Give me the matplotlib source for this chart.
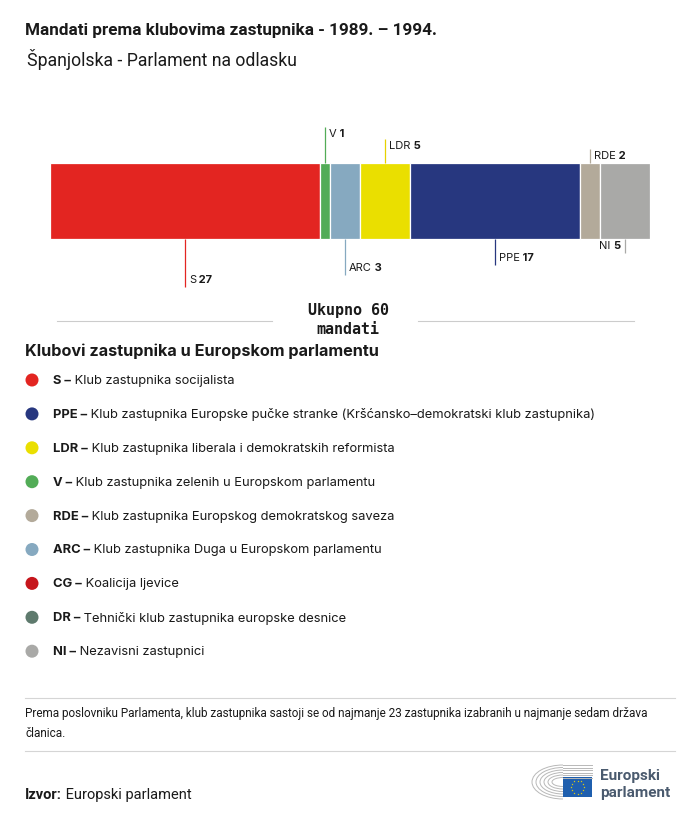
import matplotlib
matplotlib.use("Agg")
import matplotlib.pyplot as plt
from matplotlib.patches import Circle, Rectangle, Arc
import numpy as np

plt.rcParams['font.family'] = ['Inter', 'DejaVu Sans']

# === Data ===
groups = ["S", "V", "ARC", "LDR", "PPE", "RDE", "NI"]
seats = [27, 1, 3, 5, 17, 2, 5]
colors = ["#E32521", "#52AC57", "#86A9C0", "#EADF00", "#27377F", "#B3AA9A", "#A9A9A7"]

# label layout: side (+1 above, -1 below), leader end y (px), text side
label_side = [-1, 1, -1, 1, -1, 1, -1]
label_end = [288, 128, 276, 140, 266, 150, 254]
label_left = [False, False, False, False, False, False, True]

legend_codes = ["S", "PPE", "LDR", "V", "RDE", "ARC", "CG", "DR", "NI"]
legend_names = [
    "Klub zastupnika socijalista",
    "Klub zastupnika Europske pučke stranke (Kršćansko–demokratski klub zastupnika)",
    "Klub zastupnika liberala i demokratskih reformista",
    "Klub zastupnika zelenih u Europskom parlamentu",
    "Klub zastupnika Europskog demokratskog saveza",
    "Klub zastupnika Duga u Europskom parlamentu",
    "Koalicija ljevice",
    "Tehnički klub zastupnika europske desnice",
    "Nezavisni zastupnici",
]
legend_colors = ["#E32521", "#27377F", "#EADF00", "#52AC57", "#B3AA9A",
                 "#86A9C0", "#C6161C", "#5E7A6D", "#A9A9A7"]

total = sum(seats)
W, H = 700, 820
TXT = "#1a1a1a"
ROB = ["Roboto", "DejaVu Sans"]

fig = plt.figure(figsize=(W / 100, H / 100), dpi=100)

# full-figure axis in pixel coordinates for the text
bg = fig.add_axes([0, 0, 1, 1])
bg.set_xlim(0, W)
bg.set_ylim(H, 0)
bg.axis("off")

# === Bar ===
ax = fig.add_axes([50 / W, (H - 300) / H, 600 / W, 180 / H])
ax.set_xlim(0, total)
ax.set_ylim(300, 120)
ax.axis("off")

lefts = np.cumsum([0] + seats[:-1])
ax.barh(202, seats, left=lefts, height=76, color=colors,
        edgecolor="white", linewidth=0.9)

for g, v, l, c, side, end, tleft in zip(groups, seats, lefts, colors,
                                         label_side, label_end, label_left):
    xm = l + v / 2
    y0 = 164 if side > 0 else 240
    ax.plot([xm, xm], [y0, end], color=c if c != "#EADF00" else "#E6D200",
            lw=0.9, solid_capstyle="butt")
    ty = end + 6 if side > 0 else end - 8
    if tleft:
        t = ax.annotate(str(v), xy=(xm, ty), xytext=(-3, 0),
                        textcoords="offset points", ha="right", va="center",
                        fontsize=8, fontweight="bold", color=TXT)
        ax.annotate(g + " ", xy=(0, 0.5), xycoords=t, ha="right", va="center",
                    fontsize=8, color=TXT)
    else:
        t = ax.annotate(g, xy=(xm, ty), xytext=(3, 0),
                        textcoords="offset points", ha="left", va="center",
                        fontsize=8, color=TXT)
        ax.annotate(" " + str(v), xy=(1, 0.5), xycoords=t, ha="left",
                    va="center", fontsize=8, fontweight="bold", color=TXT)

# === Titles ===
bg.text(25, 30, "Mandati prema klubovima zastupnika - 1989. – 1994.",
        fontsize=12.3, fontweight="bold", color=TXT, va="center", family=ROB)
bg.text(27, 60, "Španjolska - Parlament na odlasku", fontsize=12.7,
        color=TXT, va="center", family=ROB)

# === Total ===
bg.plot([57, 272], [322, 322], color="#cccccc", lw=0.8)
bg.plot([418, 634], [322, 322], color="#cccccc", lw=0.8)
bg.text(348, 311, "Ukupno " + str(total), fontsize=10.8, fontweight="bold",
        family="DejaVu Sans Mono", ha="center", va="center", color=TXT)
bg.text(348, 330, "mandati", fontsize=10.8, fontweight="bold",
        family="DejaVu Sans Mono", ha="center", va="center", color=TXT)

# === Legend ===
bg.text(25, 351, "Klubovi zastupnika u Europskom parlamentu", fontsize=11.7,
        fontweight="bold", color=TXT, va="center")
for i, (code, name, c) in enumerate(zip(legend_codes, legend_names, legend_colors)):
    y = 381 + i * 33.9
    bg.add_patch(Circle((32, y), 6.5, color=c, lw=0))
    t = bg.text(53, y, code + " –", fontsize=9.3, fontweight="bold", color=TXT,
                va="center")
    bg.annotate(" " + name, xy=(1, 0.5), xycoords=t, ha="left", va="center",
                fontsize=9.3, color=TXT)

# === Footer ===
bg.plot([25, 675], [699, 699], color="#d5d5d5", lw=0.8)
bg.plot([25, 675], [752, 752], color="#d5d5d5", lw=0.8)
bg.text(25, 714, "Prema poslovniku Parlamenta, klub zastupnika sastoji se od najmanje "
        "23 zastupnika izabranih u najmanje sedam država", fontsize=8.5,
        color=TXT, va="center", family=ROB)
bg.text(25, 734, "članica.", fontsize=8.5, color=TXT, va="center", family=ROB)
t = bg.text(25, 795, "Izvor:", fontsize=10.5, fontweight="bold", color=TXT,
            va="center", family=ROB)
bg.annotate(" Europski parlament", xy=(1, 0.5), xycoords=t, ha="left",
            va="center", fontsize=10.5, color=TXT, family=ROB)

# logo
for k in range(6):
    w = 62 - k * 8
    h = 34 - k * 5
    bg.add_patch(Arc((563, 783), w, h, theta1=90, theta2=270,
                     color="#b8b8b8", lw=0.7))
    bg.plot([563, 592], [783 - h / 2, 783 - h / 2], color="#b8b8b8", lw=0.7)
bg.add_patch(Rectangle((563, 778), 29, 20, color="#1f5fae", lw=0))
for a in np.linspace(0, 2 * np.pi, 12, endpoint=False):
    bg.plot(577.5 + 6.5 * np.cos(a), 788 + 6.5 * np.sin(a), marker="*",
            ms=1.6, color="#f4d800", mec="none")
bg.text(600, 776, "Europski", fontsize=11, fontweight="bold", color="#4a5a6e",
        va="center", family=ROB)
bg.text(600, 793, "parlament", fontsize=11, fontweight="bold", color="#4a5a6e",
        va="center", family=ROB)

fig.savefig("out.png", dpi=100)
